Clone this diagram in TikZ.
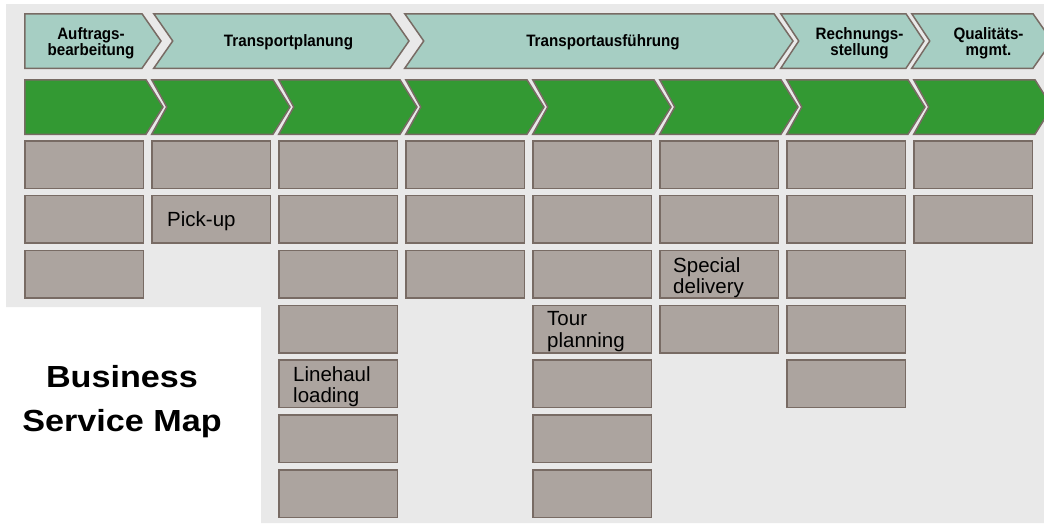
\documentclass[tikz,border=0pt]{standalone}
\usepackage{fontspec}
\setmainfont{Liberation Sans}
\newfontfamily\titlefont[FakeStretch=1.12]{Liberation Sans}
\newfontfamily\headfont[FakeStretch=0.92]{Liberation Sans}
\definecolor{bgray}{HTML}{E9E9E9}
\definecolor{tealfill}{HTML}{A6CEC3}
\definecolor{greenfill}{HTML}{339933}
\definecolor{boxfill}{HTML}{ACA49F}
\definecolor{edgecol}{HTML}{786B64}
\begin{document}
\begin{tikzpicture}[x=1pt,y=-1pt,
  chevtop/.style={fill=tealfill, draw=edgecol, line width=1.5pt},
  chevgreen/.style={fill=greenfill, draw=edgecol, line width=1.5pt},
  cellbox/.style={draw=edgecol, fill=boxfill, line width=1.5pt, minimum width=118.5pt,
    minimum height=47.5pt, inner sep=0pt, outer sep=0pt, anchor=north west},
  headtext/.style={font=\headfont\fontsize{16.5}{16.5}\selectfont\bfseries, align=center, inner sep=0pt},
  celltext/.style={font=\fontsize{20.5}{21.5}\selectfont, align=left, inner sep=0pt, anchor=north west},
  titletext/.style={font=\titlefont\fontsize{30.5}{44}\selectfont\bfseries, align=center, inner sep=0pt}
]
\useasboundingbox (0,0) rectangle (1044,523);
\begin{scope}
\clip (0,0) rectangle (1044,523);
% background L-shape
\fill[bgray] (6,4) -- (1044,4) -- (1044,523) -- (261,523) -- (261,307) -- (6,307) -- cycle;
% top chevrons
\foreach \xa/\xn/\xr/\xt in {24/24/142/161, 153/172/390/409, 404/423/774/793, 780/798/906/924, 911/929/1033/1052}{
  \path[chevtop] (\xa+0.75,13.75) -- (\xr,13.75) -- (\xt,41) -- (\xr,68.25) -- (\xa+0.75,68.25) -- (\xn+0.75,41) -- cycle;
}
% green chevrons
\foreach \c in {1,...,8}{
  \pgfmathsetmacro\xa{24+127*(\c-1)}
  \pgfmathsetmacro\nd{\c>1 ? 15 : 0}
  \path[chevgreen] (\xa+0.75,79.75) -- (\xa+122,79.75) -- (\xa+139,107) -- (\xa+122,134.25) -- (\xa+0.75,134.25) -- (\xa+0.75+\nd,107) -- cycle;
}
\end{scope}
% header labels
\node[headtext] (h1) at (91,43.3) {Auftrags-\\bearbeitung};
\node[headtext, anchor=base] (h2) at (288.5,46.7) {Transportplanung};
\node[headtext, anchor=base] (h3) at (603,46.7) {Transportausführung};
\node[headtext] (h4) at (859.5,43.3) {Rechnungs-\\stellung};
\node[headtext] (h5) at (988.5,43.3) {Qualitäts-\\mgmt.};
% grey boxes
\foreach \c/\n in {1/3,2/2,3/7,4/3,5/7,6/4,7/5,8/2}{
  \foreach \r in {1,...,\n}{
    \node[cellbox] (b\c-\r) at ({24+127*(\c-1)+0.75},{140+54.85*(\r-1)+0.75}) {};
  }
}
% cell labels
\node[celltext, anchor=base west] (l1) at (167,226.5) {Pick-up};
\node[celltext] (l2) at (673,257) {Special\\delivery};
\node[celltext] (l3) at (547,311.3) {Tour\\planning};
\node[celltext] (l4) at (293,366) {Linehaul\\loading};
% title
\node[titletext] (title) at (122,402) {Business\\Service Map};
\end{tikzpicture}
\end{document}
